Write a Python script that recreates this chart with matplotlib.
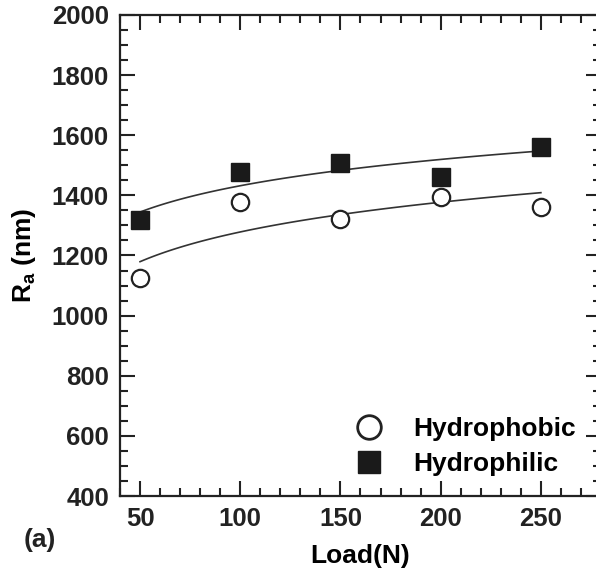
import matplotlib.pyplot as plt
import numpy as np
from matplotlib.ticker import MultipleLocator
from matplotlib.lines import Line2D

plt.rcParams['font.family'] = 'Liberation Sans'
plt.rcParams['font.weight'] = 'bold'
plt.rcParams['mathtext.fontset'] = 'custom'
plt.rcParams['mathtext.rm'] = 'Liberation Sans:bold'
plt.rcParams['mathtext.it'] = 'Liberation Sans:bold'

# data
load = [50, 100, 150, 200, 250]
hydrophobic = [1125, 1378, 1321, 1395, 1361]
hydrophilic = [1318, 1479, 1508, 1461, 1561]

fig = plt.figure(figsize=(5.96, 5.74), dpi=100)
ax = fig.add_axes([120 / 596, 1 - 496 / 574, 481 / 596, 481 / 574])

# logarithmic fit lines
xf = np.linspace(50, 250, 100)
for ys in (hydrophilic, hydrophobic):
    b, a = np.polyfit(np.log(load), ys, 1)
    ax.plot(xf, a + b * np.log(xf), color='#333333', lw=1.2, zorder=2)

ax.plot(load, hydrophobic, 'o', ms=12.5, mfc='white', mec='#222222', mew=1.6,
        ls='none', zorder=3)
ax.plot(load, hydrophilic, 's', ms=13.5, mfc='#1a1a1a', mec='#1a1a1a',
        ls='none', zorder=3)

ax.set_xlim(40, 280)
ax.set_ylim(400, 2000)
ax.xaxis.set_major_locator(MultipleLocator(50))
ax.xaxis.set_minor_locator(MultipleLocator(10))
ax.yaxis.set_major_locator(MultipleLocator(200))
ax.yaxis.set_minor_locator(MultipleLocator(50))
ax.tick_params(which='both', direction='in', top=True, right=True,
               width=1.5, labelsize=18.5, colors='#222222')
ax.tick_params(which='major', length=11, pad=8)
ax.tick_params(which='minor', length=5.5)
ax.set_xticks([50, 100, 150, 200, 250])
for s in ax.spines.values():
    s.set_linewidth(1.6)
    s.set_color('#222222')

ax.set_xlabel('Load(N)', fontsize=19, fontweight='bold', labelpad=9)
ax.set_ylabel(r'$\mathregular{R_a}$ (nm)', fontsize=19, fontweight='bold', labelpad=10)

handles = [
    Line2D([], [], marker='o', ms=17, mfc='white', mec='#222222', mew=2, ls='none'),
    Line2D([], [], marker='s', ms=16.5, mfc='#1a1a1a', mec='#1a1a1a', ls='none'),
]
ax.legend(handles, ['Hydrophobic', 'Hydrophilic'], loc='lower right', frameon=False,
          fontsize=19, handletextpad=0.7, labelspacing=0.4, borderaxespad=0.0,
          bbox_to_anchor=(0.97, 0.02))
fig.text(40 / 596, 1 - 540 / 574, '(a)', fontsize=19, fontweight='bold',
         ha='center', va='center', color='#222222')

plt.savefig('out.png', dpi=100)
